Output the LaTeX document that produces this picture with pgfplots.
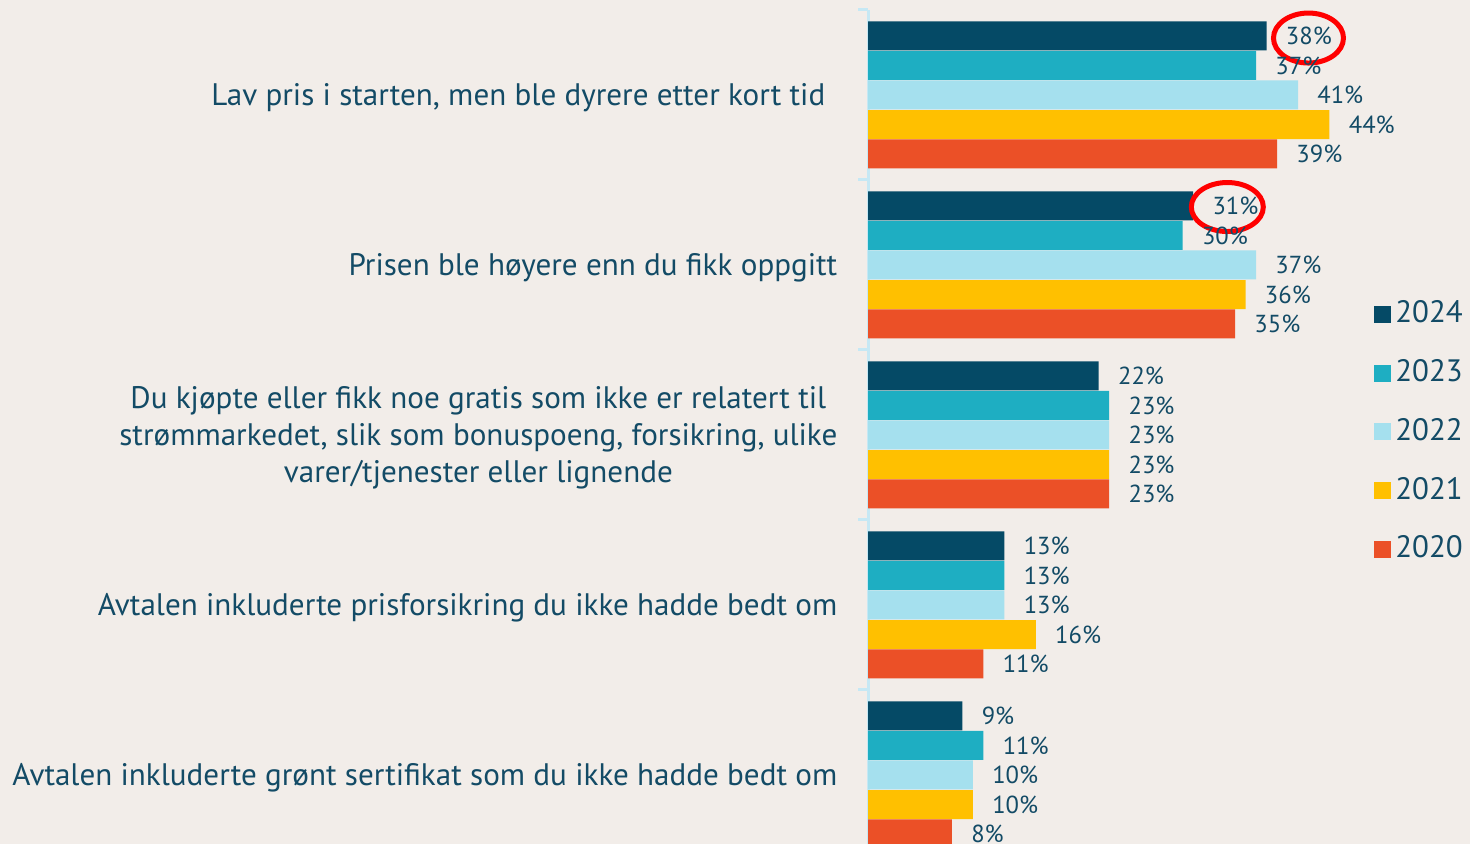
\documentclass[border=0pt]{standalone}
\usepackage{fontspec}
\setmainfont{PT Sans}
\usepackage{pgfplots}
\pgfplotsset{compat=1.18}
\usepackage{pgfplotstable}
\definecolor{bg}{HTML}{F2EDE9}
\definecolor{ink}{HTML}{134B66}
\definecolor{axisblue}{HTML}{C6E8F4}
\definecolor{cA}{HTML}{054A66}
\definecolor{cB}{HTML}{1EAEC2}
\definecolor{cC}{HTML}{A5E0EE}
\definecolor{cD}{HTML}{FFC000}
\definecolor{cE}{HTML}{EB5027}
\definecolor{circred}{HTML}{FF0000}

% y = group index + row offset (29.5px rows, 170px groups)
\pgfplotstableread{
y x
-0.347 38
0.653 31
1.653 22
2.653 13
3.653 9
}\tblA
\pgfplotstableread{
y x
-0.174 37
0.826 30
1.826 23
2.826 13
3.826 11
}\tblB
\pgfplotstableread{
y x
0 41
1 37
2 23
3 13
4 10
}\tblC
\pgfplotstableread{
y x
0.174 44
1.174 36
2.174 23
3.174 16
4.174 10
}\tblD
\pgfplotstableread{
y x
0.347 39
1.347 35
2.347 23
3.347 11
4.347 8
}\tblE

\begin{document}
\begin{tikzpicture}
\path[use as bounding box, fill=bg] (0,0) rectangle (147mm,84.4mm);
\begin{axis}[
  at={(86.8mm,83.4mm)}, anchor=north west,
  scale only axis, width=60.2mm, height=85mm,
  xmin=0, xmax=57.4, ymin=-0.5, ymax=4.5, y dir=reverse,
  xbar, bar width=2.9mm, clip=false,
  axis x line=none, axis y line*=left,
  y axis line style={draw=axisblue, line width=0.3mm},
  ytick={0,1,2,3,4},
  yticklabels={
    {Lav pris i starten, men ble dyrere etter kort tid\hspace*{1.2mm}},
    {Prisen ble høyere enn du fikk oppgitt},
    {Du kjøpte eller fikk noe gratis som ikke er relatert til\\strømmarkedet, slik som bonuspoeng, forsikring, ulike\\varer/tjenester eller lignende},
    {Avtalen inkluderte prisforsikring du ikke hadde bedt om},
    {Avtalen inkluderte grønt sertifikat som du ikke hadde bedt om}},
  major tick length=0pt,
  minor ytick={-0.5,0.5,1.5,2.5,3.5},
  minor tick length=1mm, tick align=outside,
  minor tick style={draw=axisblue, line width=0.3mm},
  yticklabel style={font=\fontsize{8.85}{10.5}\selectfont, text=ink, align=center,
    anchor=east, inner sep=0pt, xshift=-3mm, yshift=-0.3mm},
  /pgf/number format/assume math mode=true,
  every axis plot/.append style={draw=none, bar shift=0pt},
  nodes near coords={\pgfmathprintnumber{\pgfplotspointmeta}\%},
  nodes near coords style={font=\fontsize{7}{8}\selectfont, text=ink, anchor=west, xshift=0.7mm},
  legend image code/.code={\fill[#1] (0mm,-0.85mm) rectangle (1.7mm,0.85mm);},
  legend cell align=left,
  legend style={draw=none, fill=none, at={(0.840,0.6635)}, anchor=north west,
    font=\fontsize{8.8}{10}\selectfont, text=ink, inner sep=0pt, row sep=2.35mm,
    nodes={inner sep=0.4mm}},
]
\addplot[fill=cA, bar shift=0pt] table[x=x,y=y] {\tblA};
\addplot[fill=cB, bar shift=0pt] table[x=x,y=y] {\tblB};
\addplot[fill=cC, bar shift=0pt] table[x=x,y=y] {\tblC};
\addplot[fill=cD, bar shift=0pt] table[x=x,y=y] {\tblD};
\addplot[fill=cE, bar shift=0pt] table[x=x,y=y] {\tblE};
\legend{2024,2023,2022,2021,2020}
\draw[circred, line width=0.5mm] (axis cs:42.0,-0.335) ellipse [x radius=3.5mm, y radius=2.5mm];
\draw[circred, line width=0.5mm] (axis cs:34.26,0.659) ellipse [x radius=3.6mm, y radius=2.45mm];
\end{axis}
\end{tikzpicture}
\end{document}
